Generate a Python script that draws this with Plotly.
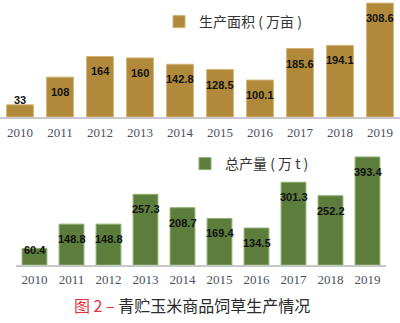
import plotly.graph_objects as go

years = ["2010", "2011", "2012", "2013", "2014", "2015", "2016", "2017", "2018", "2019"]
area = [33, 108, 164, 160, 142.8, 128.5, 100.1, 185.6, 194.1, 308.6]
output = [60.4, 148.8, 148.8, 257.3, 208.7, 169.4, 134.5, 301.3, 252.2, 393.4]
area_labels = ["33", "108", "164", "160", "142.8", "128.5", "100.1", "185.6", "194.1", "308.6"]
output_labels = ["60.4", "148.8", "148.8", "257.3", "208.7", "169.4", "134.5", "301.3", "252.2", "393.4"]

gold = "#B08A3A"
gold_edge = "#D2B274"
green = "#5C7D3C"
green_edge = "#8DB06C"

fig = go.Figure()
fig.add_trace(go.Bar(
    x=years, y=area, name="生产面积 ( 万亩 )",
    marker=dict(color=gold, line=dict(color=gold_edge, width=1)),
    xaxis="x", yaxis="y", legend="legend",
))
fig.add_trace(go.Bar(
    x=years, y=output, name="总产量 ( 万 t )",
    marker=dict(color=green, line=dict(color=green_edge, width=1)),
    xaxis="x2", yaxis="y2", legend="legend2",
))

lab_font = dict(family="Liberation Sans, Arial", size=11, color="#111")
annos = []
for i, (v, t) in enumerate(zip(area, area_labels)):
    shift = 5 if v < 50 else -15
    annos.append(dict(x=i, y=v, xref="x", yref="y", text="<b>" + t + "</b>", showarrow=False,
                      yshift=shift, font=lab_font))
for i, (v, t) in enumerate(zip(output, output_labels)):
    shift = -2 if v < 80 else -15
    annos.append(dict(x=i, y=v, xref="x2", yref="y2", text="<b>" + t + "</b>", showarrow=False,
                      yshift=shift, font=lab_font))
annos.append(dict(
    x=0.48, y=1 - 305 / 323, xref="paper", yref="paper", showarrow=False,
    xanchor="center", yanchor="middle",
    text="<span style='color:#E2333C'>图 2 – </span>青贮玉米商品饲草生产情况",
    font=dict(family="Noto Sans CJK SC", size=16, color="#2a2a2a"),
))

axis_font = dict(family="Liberation Serif, serif", size=13, color="#4a5060")
fig.update_layout(
    width=400, height=323,
    margin=dict(l=0, r=0, t=0, b=0),
    paper_bgcolor="white", plot_bgcolor="white",
    bargap=0.33,
    xaxis=dict(type="category", categoryorder="array", categoryarray=years, range=[-0.5, 9.5],
               domain=[0, 1], anchor="y", showline=True, linecolor="#C8C8C8",
               linewidth=1.5, ticks="", tickfont=axis_font, showgrid=False, ticklabelstandoff=3),
    yaxis=dict(domain=[1 - 117 / 323, 1], range=[0, 317], visible=False, showgrid=False),
    xaxis2=dict(type="category", categoryorder="array", categoryarray=years, range=[-0.5, 9.5],
                domain=[0.04, 0.965], anchor="y2", showline=True,
                linecolor="#C8C8C8", linewidth=1.5, ticks="", tickfont=axis_font, showgrid=False,
                ticklabelstandoff=2),
    yaxis2=dict(domain=[1 - 265 / 323, 1 - 148 / 323], range=[0, 426], visible=False, showgrid=False),
    legend=dict(x=0.3975, y=1 - 6 / 323, xanchor="left", yanchor="top", bgcolor="rgba(0,0,0,0)",
                font=dict(family="Noto Sans CJK SC", size=14, color="#333"), itemwidth=30),
    legend2=dict(x=0.4625, y=1 - 148 / 323, xanchor="left", yanchor="top", bgcolor="rgba(0,0,0,0)",
                 font=dict(family="Noto Sans CJK SC", size=14, color="#333"), itemwidth=30),
    annotations=annos,
    showlegend=True,
)
fig.write_html("out.html")
